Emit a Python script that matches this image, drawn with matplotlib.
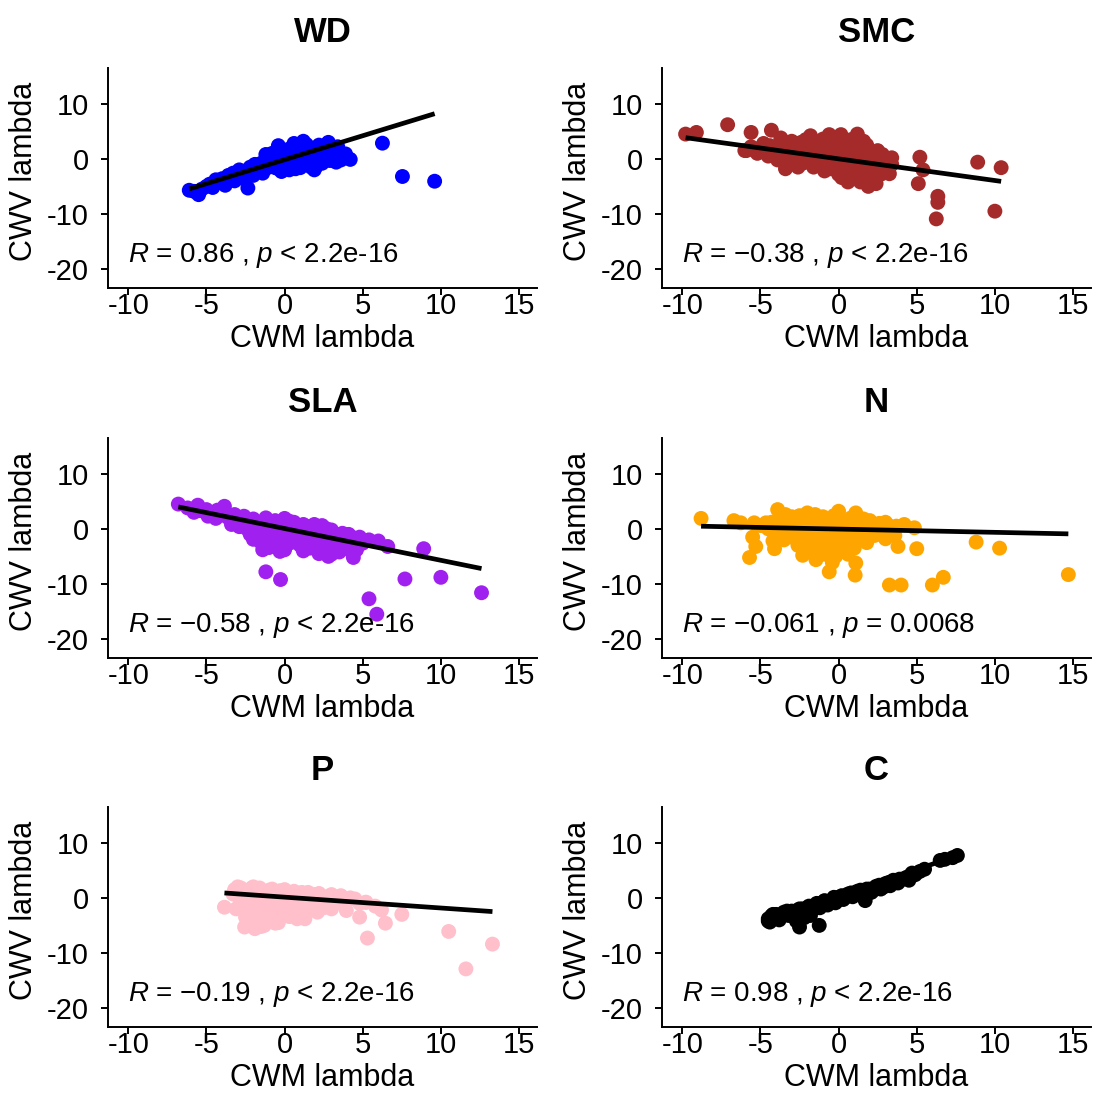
"""CWV vs CWM lambda scatter panels, one per trait."""

import matplotlib

matplotlib.use("Agg")
import matplotlib.pyplot as plt

plt.rcParams["font.family"] = ["Liberation Sans", "DejaVu Sans"]
plt.rcParams["mathtext.fontset"] = "custom"
plt.rcParams["mathtext.rm"] = "Liberation Sans"
plt.rcParams["mathtext.it"] = "Liberation Sans:italic"
plt.rcParams["axes.unicode_minus"] = False

# ---- data ------------------------------------------------------------------
traits = ["WD", "SMC", "SLA", "N", "P", "C"]
colors = ["#0000FF", "#A52A2A", "#A020F0", "#FFA500", "#FFC0CB", "#000000"]
cor_labels = [
    "$R$ = 0.86 , $p$ < 2.2e-16",
    "$R$ = \u22120.38 , $p$ < 2.2e-16",
    "$R$ = \u22120.58 , $p$ < 2.2e-16",
    "$R$ = \u22120.061 , $p$ = 0.0068",
    "$R$ = \u22120.19 , $p$ < 2.2e-16",
    "$R$ = 0.98 , $p$ < 2.2e-16",
]
# regression lines (slope, intercept)
fit_slope = [0.87, -0.393, -0.577, -0.059, -0.197, 0.97]
fit_intercept = [-0.15, 0.0, 0.06, -0.04, 0.13, 0.3]

wd_x = [-6.1, -5.5, -5.3, -5.0, -4.6, -4.2, -3.8, -3.5, -3.2, -3.0, -2.7, -2.35,
        -2.5, -2.2, -2.0, -1.8, -1.5, -1.4, -1.1, -1.0, -0.7, -0.5, -0.4, -0.2,
        0.0, 0.2, 0.3, 0.5, 0.7, 0.8, 1.0, 1.2, 1.3, 1.5, 1.7, 1.9, 2.0, 2.2,
        2.4, 2.6, 2.8, 3.0, 3.2, 3.5, 3.3, 3.7, 4.2, 6.26, 7.54, 9.6,
        -5.8, -4.8, -4.4, -4.0, -3.6, -3.3, -2.9, -2.6, -2.3, -1.9, -1.6, -1.3,
        -1.2, -0.9, -0.8, -0.6, -0.3, -0.1, 0.1, 0.4, 0.6, 0.6, 0.9, 1.1, 1.4,
        1.6, 1.8, 2.1, 2.3, 2.5, 2.7, 2.9, 3.1, 3.4, 3.6, 3.9, 0.3, -0.4, 1.0, 2.0]
wd_y = [-5.7, -6.5, -5.5, -5.0, -5.2, -4.3, -4.8, -3.5, -4.0, -2.8, -3.5, -5.3,
        -2.2, -1.5, -3.0, -2.2, -0.8, -2.6, 0.3, -1.5, -0.3, 1.4, 2.4, -2.3,
        0.5, -1.2, 1.8, 0.0, -1.8, 2.2, 0.8, 3.2, -0.5, 1.6, -1.5, -2.0, 0.5, 2.5,
        -0.8, 1.2, 3.0, 0.2, 1.8, 1.2, -0.6, 0.6, -0.1, 2.85, -3.2, -4.06,
        -5.9, -4.6, -3.8, -3.6, -3.0, -2.6, -2.0, -3.0, -2.8, -1.0, -1.8, -0.5,
        0.8, -0.8, 1.0, -1.6, 0.2, 1.6, -0.5, 0.9, 2.8, -1.0, 0.0, 1.8, 2.6,
        0.2, 1.0, -0.2, 1.8, 0.2, 2.0, -0.3, 1.0, 2.2, -0.2, 0.9, -2.0, -1.8, -1.6, -1.4]

smc_x = [-9.79, -9.1, -7.1, -5.6, -4.3, -3.7, -5.9,
         -6.0, -5.6, -5.2, -4.8, -4.5, -4.2, -3.9, -3.6, -3.4, -3.2, -3.0, -2.8,
         -2.5, -2.3, -2.1, -1.8, -1.8, -1.6, -1.4, -1.2, -1.0, -0.9, -0.6, -0.6,
         -0.4, -0.2, 0.0, 0.15, 0.2, 0.4, 0.6, 0.6, 0.8, 1.0, 1.2, 1.2, 1.4, 1.6,
         1.8, 1.9, 2.0, 2.2, 2.4, 2.5, 2.7, 3.0, 3.25, 3.4, 2.8,
         5.2, 5.4, 5.1, 6.35, 6.35, 6.25, 8.9, 10.4, 10.0,
         -5.4, -5.0, -4.6, -4.4, -4.0, -3.8, -3.5, -3.3, -3.0, -2.7, -2.6, -2.4,
         -2.2, -2.0, -1.9, -1.7, -1.5, -1.3, -1.1, -1.0, -0.8, -0.7, -0.5, -0.3,
         -0.1, 0.0, 0.3, 0.4, 0.5, 0.7, 0.9, 1.0, 1.1, 1.3, 1.5, 1.6, 1.7, 1.9,
         2.1, 2.3, 2.3, 2.6, 2.8, 2.9, 3.1, 3.4, 1.4, 0.2]
smc_y = [4.5, 4.8, 6.2, 4.8, 5.2, 3.8, 1.5,
         1.5, 2.2, 1.0, 2.8, 0.5, 1.8, -0.2, 2.5, -1.8, 1.2, 3.2, 0.2,
         2.0, -0.8, 3.5, 4.2, 1.0, -1.5, 2.6, 0.0, 3.6, -2.2, 4.4, 1.5,
         -0.8, 2.8, -2.8, 4.4, 0.5, -1.5, -4.2, 2.0, 3.5, -0.5, 4.5, -2.5, 1.2, -3.5,
         2.5, -5.0, 0.0, -1.8, -4.5, 1.5, -2.8, 0.0, -2.7, -1.0, 0.8,
         0.3, -2.0, -4.5, -6.8, -7.9, -10.9, -0.6, -1.6, -9.5,
         1.6, 2.0, 1.2, 2.4, 0.8, 2.0, 0.4, 3.0, -0.6, 1.6, -1.5, 3.0,
         0.6, 2.4, -0.3, 3.0, 0.3, 1.6, -1.0, 2.4, 0.5, 3.0, -1.8, 1.8,
         0.0, 3.5, -0.9, 2.6, 1.0, -2.2, 0.2, 2.6, -1.2, -3.5, 0.0, 3.2, -1.5, 1.2,
         -0.8, -3.0, 0.6, -1.2, -0.2, -2.0, -1.2, 0.2, -4.2, -3.4]

sla_x = [-6.8, -5.55, -4.9, -4.4, -3.85, -3.4, -2.0, -1.4, -0.3, -1.2, -0.26,
         1.9, 2.8, 4.4, 5.1, 6.0, 6.6, 8.9, 7.7, 10.0, 12.6, 5.4, 5.9,
         -6.2, -5.8, -5.0, -4.6, -4.0, -3.6, -3.2, -2.8, -2.6, -2.4, -2.2, -2.0,
         -1.8, -1.6, -1.5, -1.2, -1.0, -0.8, -0.6, -0.4, -0.2, 0.0, 0.2, 0.4, 0.6,
         0.8, 1.0, 1.2, 1.4, 1.6, 1.8, 2.0, 2.2, 2.4, 2.6, 2.8, 3.0, 3.2, 3.5,
         3.7, 4.0, 4.3, 4.6, 4.8, 5.4,
         -5.4, -4.8, -4.3, -3.9, -3.4, -3.0, -2.9, -2.6, -2.3, -2.1, -1.9, -1.7,
         -1.3, -1.1, -0.9, -0.7, -0.5, -0.3, -0.1, 0.1, 0.3, 0.5, 0.7, 0.9, 1.1,
         1.3, 1.5, 1.7, 1.9, 2.1, 2.3, 2.5, 2.7, 2.9, 3.1, 3.3, 3.6, 3.9, 4.1,
         4.4, 4.7, 5.0, -1.0, 0.0, 1.2, 3.0]
sla_y = [4.5, 4.3, 2.3, 1.9, 4.1, 0.8, -1.9, -3.8, -4.1, -7.8, -9.2,
         0.8, -5.0, -5.2, -2.2, -2.2, -3.2, -3.6, -9.1, -8.8, -11.6, -12.7, -15.5,
         3.8, 3.0, 3.5, 2.8, 3.0, 2.0, 2.6, 1.2, 2.3, 0.0, -1.0, 1.8,
         -0.5, 1.0, -2.5, 2.0, 0.0, -1.5, 1.5, -3.0, 0.5, 1.9, -1.0, -2.5, 1.2,
         -0.5, -3.0, 0.8, -1.8, -3.5, 0.0, -2.5, -4.5, 0.6, -1.2, -3.2, -0.2, -2.0, -4.2,
         -0.8, -2.8, -1.5, -3.8, -1.5, -2.0,
         3.3, 2.6, 3.4, 2.5, 1.6, 2.0, 0.4, 0.8, 1.2, -0.2, 0.8, -1.6,
         0.5, -1.0, 1.2, -2.2, 0.2, -1.2, 1.2, -0.2, 1.4, -1.8, 0.2, -1.4, -2.2,
         -0.4, 0.4, -1.0, -3.0, -0.6, -1.8, -3.8, 0.0, -2.2, -1.0, -3.0, -1.6, -3.6, -1.0,
         -2.4, -2.0, -2.6, -3.4, -3.8, -4.0, -4.6]

n_x = [-8.8, -6.7, -6.26, -5.4, -5.5, -5.3, -5.7, -4.65, -4.1, -3.9, -2.0, 0.0,
       1.1, 2.0, -2.3, -1.45, -0.4, -0.6, 1.1, 1.06, 3.8, 5.0, 3.25, 4.0, 6.0,
       6.7, 8.8, 10.3, 14.7, 3.7, 4.85, 4.2,
       -4.5, -4.0, -3.8, -3.5, -3.2, -3.0, -2.8, -2.6, -2.4, -2.2, -2.0, -1.8,
       -1.6, -1.4, -1.2, -1.0, -0.8, -0.6, -0.4, -0.2, 0.0, 0.2, 0.4, 0.6, 0.8,
       1.0, 1.2, 1.4, 1.6, 1.8, 2.0, 2.3, 2.6, 2.9, 3.2, 3.0,
       -5.0, -4.3, -4.2, -3.6, -3.4, -3.1, -2.9, -2.7, -2.5, -2.3, -2.1, -1.9,
       -1.7, -1.5, -1.3, -1.1, -0.9, -0.7, -0.5, -0.3, -0.1, 0.1, 0.3, 0.5, 0.7,
       0.9, 1.1, 1.3, 1.5, 1.7, 1.9, 2.1, 2.4, 2.7, 3.0, 3.4, 3.6, -0.9, -0.2,
       -1.8, 0.6]
n_y = [1.9, 1.5, 1.1, 1.1, -1.5, -3.2, -5.2, 1.1, -3.6, 3.5, 2.9, 3.2,
       2.9, 1.5, -4.8, -5.6, -6.1, -7.8, -6.2, -8.4, -3.2, -3.6, -10.2, -10.2, -10.2,
       -8.8, -2.4, -3.5, -8.3, 0.5, 0.2, 0.8,
       0.0, -1.0, 1.5, -2.0, 0.5, 2.2, -1.0, -3.0, 1.0, -0.5, -2.2, 1.8,
       -1.2, -3.8, 0.3, 2.2, -2.0, -4.0, 0.8, -1.0, 1.8, -2.8, 0.0, -1.5, 2.0,
       -3.5, 0.5, -1.0, 1.8, -2.5, 0.0, -1.2, 1.0, -0.5, 0.6, -1.8,
       0.6, 1.2, -2.2, 0.4, 2.6, -1.2, 1.0, -2.0, 2.4, -1.5, 0.4, -3.2,
       0.8, 2.6, -2.4, -0.6, 1.2, -3.0, -1.8, 2.4, -0.2, -4.0, 1.2, -2.6, 0.6,
       -1.0, 2.4, -2.0, 0.0, -1.2, 1.0, -0.8, 0.4, -1.0, 1.2, -0.4, -1.2, -4.6, -5.0,
       -4.2, -4.6]

p_x = [-3.85, -3.1, -3.3, -2.56, -1.9, -3.0, -2.0, 1.3, 2.1, 3.95, 4.8, 5.3,
       6.45, 7.5, 5.2, 10.5, 11.6, 13.3,
       -3.2, -2.8, -2.6, -2.4, -2.2, -2.0, -1.8, -1.6, -1.5, -1.3, -1.2, -1.0,
       -0.8, -0.6, -0.4, -0.2, 0.0, 0.2, 0.4, 0.6, 0.8, 1.0, 1.2, 1.5, 1.8,
       2.2, 2.5, 2.8, 3.2, 3.6, 4.0, 4.5, 5.2, 5.8, 6.2, 3.0,
       -3.0, -2.9, -2.7, -2.5, -2.3, -2.1, -2.0, -1.9, -1.7, -1.7, -1.4, -1.1,
       -1.0, -0.9, -0.7, -0.5, -0.3, -0.1, 0.1, 0.3, 0.5, 0.7, 0.9, 1.1, 1.3,
       1.6, 1.9, 2.0, 2.4, 2.7, 3.0, 3.4, 3.8, 4.2, 4.8, -1.5, -0.6]
p_y = [-1.7, -2.0, 0.7, -5.3, -5.6, 2.0, 2.0, -3.8, -2.6, -2.3, -3.5, -7.3,
       -4.6, -3.0, -0.8, -6.1, -12.9, -8.4,
       1.5, 1.8, -0.5, -2.5, 1.0, -4.0, 0.0, 1.8, -2.0, -5.0, 0.8, -3.5,
       1.6, -1.0, -4.5, 0.5, 1.5, -2.5, -0.5, 1.2, -3.8, 0.2, -1.5, 1.0, -0.8,
       0.8, -1.8, 0.3, -0.8, 0.4, -0.5, -0.2, -0.8, -1.5, -2.2, -2.0,
       0.4, -1.5, 1.0, -3.5, 0.0, 1.8, -1.2, -2.8, -4.5, 1.0, -0.8, -2.4,
       1.4, -4.2, 0.2, -2.8, 1.3, -1.8, 0.4, -3.4, -1.2, 0.8, -2.2, 1.0, -0.6,
       -2.0, 0.6, -1.4, 0.0, -0.9, 0.6, -0.2, -1.2, 0.0, -1.0, -5.2, -4.6]

c_x = [-4.5, -4.4, -4.2, -3.8, -3.5, -3.2, -3.0, -2.8, -2.5, -2.5, -2.2, -2.0,
       -1.8, -1.5, -1.24, -1.2, -1.0, -0.7, -0.4, -0.2, 0.0, 0.3, 0.6, 0.9,
       1.2, 1.5, 1.7, 1.8, 2.1, 2.4, 2.7, 3.0, 3.3, 3.5, 3.8, 4.1, 4.4, 4.7,
       4.5, 6.5, 6.8, 7.3, 7.6, 5.5,
       -4.3, -4.0, -3.6, -3.3, -2.9, -2.6, -2.3, -2.1, -1.9, -1.6, -1.4, -1.1,
       -0.9, -0.6, -0.3, -0.1, 0.2, 0.5, 0.8, 1.1, 1.4, 1.6, 2.0, 2.3, 2.6,
       2.9, 3.2, 3.6, 3.9, 4.2, 4.6, 4.9, 5.2, -4.5, -3.8, -2.7, -2.2]
c_y = [-3.8, -4.4, -3.0, -3.5, -2.6, -3.2, -2.4, -3.6, -5.3, -2.0, -2.6, -1.8,
       -3.2, -1.4, -5.0, -1.8, -0.8, -1.3, -0.4, -0.9, 0.1, -0.3, 0.7, 0.2,
       1.2, 0.6, -0.5, 1.6, 1.0, 2.1, 1.6, 2.6, 2.2, 3.2, 2.7, 3.4, 3.8, 4.5,
       3.2, 6.8, 7.0, 7.3, 7.7, 5.2,
       -3.3, -3.0, -3.0, -2.4, -2.9, -2.2, -2.0, -2.3, -1.5, -2.0, -1.0, -1.2,
       -0.5, -0.6, 0.1, -0.3, 0.4, 0.2, 0.9, 0.6, 1.4, 1.0, 1.6, 1.5, 2.3,
       2.0, 2.8, 2.8, 3.4, 3.5, 4.0, 4.2, 4.8, -4.2, -4.0, -4.2, -3.6]

xs = [wd_x, smc_x, sla_x, n_x, p_x, c_x]
ys = [wd_y, smc_y, sla_y, n_y, p_y, c_y]

x_ticks = [-10, -5, 0, 5, 10, 15]
y_ticks = [-20, -10, 0, 10]

# ---- layout (pixels in a 1093 x 1093 canvas) -------------------------------
W = H = 1093
col_left = [108, 662]
row_top = [68, 438, 807]
ax_w, ax_h = 429, 220

fig = plt.figure(figsize=(W / 100, H / 100), dpi=100)

for i, trait in enumerate(traits):
    r, c = divmod(i, 2)
    left = col_left[c] / W
    bottom = 1 - (row_top[r] + ax_h) / H
    ax = fig.add_axes([left, bottom, ax_w / W, ax_h / H])

    ax.scatter(xs[i], ys[i], s=115, color=colors[i], edgecolors="none", zorder=2)

    x_lo, x_hi = min(xs[i]), max(xs[i])
    ax.plot([x_lo, x_hi],
            [fit_slope[i] * x_lo + fit_intercept[i], fit_slope[i] * x_hi + fit_intercept[i]],
            color="black", lw=3.4, solid_capstyle="butt", zorder=3)

    ax.text(-10, -17.6, cor_labels[i], fontsize=20, va="center", ha="left")

    ax.set_xlim(-11.3, 16.15)
    ax.set_ylim(-23.45, 16.5)
    ax.set_xticks(x_ticks)
    ax.set_yticks(y_ticks)
    ax.tick_params(labelsize=21, width=1.4, length=5, color="black",
                   labelcolor="black")
    ax.tick_params(axis="x", pad=-2)
    ax.tick_params(axis="y", pad=9)
    for side in ("top", "right"):
        ax.spines[side].set_visible(False)
    for side in ("left", "bottom"):
        ax.spines[side].set_linewidth(1.4)

    ax.set_xlabel("CWM lambda", fontsize=22)
    ax.set_ylabel("CWV lambda", fontsize=22)
    ax.xaxis.set_label_coords(0.5, -0.165)
    ax.yaxis.set_label_coords(-0.16, 0.53)
    ax.text(0.5, 1 + 36 / ax_h, trait, transform=ax.transAxes, fontsize=25,
            fontweight="bold", ha="center", va="center")

fig.savefig("out.png", dpi=100)
